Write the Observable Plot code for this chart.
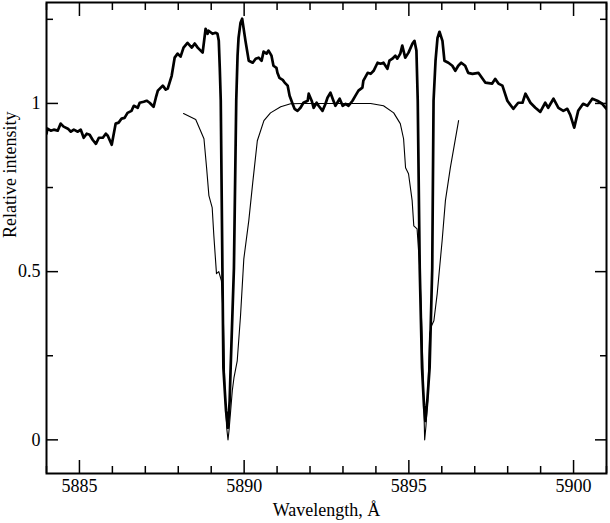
<!DOCTYPE html>
<html><head><meta charset="utf-8">
<script src="https://cdn.jsdelivr.net/npm/d3@7"></script>
<script src="https://cdn.jsdelivr.net/npm/@observablehq/plot@0.6"></script>
<style>html,body{margin:0;padding:0;background:#fff}svg{display:block}svg text{font-family:'Liberation Serif','Times New Roman',serif !important}</style>
</head><body><div id="chart"></div>
<script>
const observedWavelength = [5884.00,5884.03,5884.13,5884.22,5884.34,5884.43,5884.52,5884.65,5884.74,5884.83,
5884.95,5885.04,5885.13,5885.22,5885.31,5885.40,5885.50,5885.59,5885.71,5885.80,
5885.86,5885.98,5886.10,5886.19,5886.28,5886.37,5886.46,5886.58,5886.65,5886.77,
5886.83,5886.95,5887.04,5887.13,5887.25,5887.32,5887.38,5887.53,5887.62,5887.68,
5887.80,5887.89,5887.98,5888.07,5888.16,5888.28,5888.41,5888.50,5888.59,5888.68,
5888.74,5888.83,5888.89,5888.92,5889.04,5889.13,5889.19,5889.23,5889.26,5889.29,
5889.34,5889.37,5889.45,5889.51,5889.56,5889.59,5889.69,5889.76,5889.80,5889.83,
5889.89,5889.94,5890.04,5890.14,5890.26,5890.35,5890.44,5890.53,5890.59,5890.68,
5890.74,5890.83,5890.89,5890.98,5891.01,5891.07,5891.17,5891.23,5891.32,5891.38,
5891.47,5891.53,5891.62,5891.71,5891.80,5891.93,5891.96,5892.05,5892.11,5892.20,
5892.26,5892.38,5892.47,5892.53,5892.62,5892.71,5892.77,5892.90,5892.99,5893.08,
5893.17,5893.29,5893.38,5893.47,5893.59,5893.62,5893.75,5893.84,5893.93,5894.05,
5894.14,5894.23,5894.35,5894.41,5894.50,5894.59,5894.65,5894.74,5894.80,5894.89,
5894.99,5895.11,5895.17,5895.23,5895.27,5895.33,5895.40,5895.46,5895.50,5895.56,
5895.63,5895.71,5895.75,5895.81,5895.87,5895.93,5896.02,5896.08,5896.20,5896.32,
5896.41,5896.50,5896.59,5896.71,5896.80,5896.93,5897.11,5897.32,5897.53,5897.62,
5897.72,5897.84,5897.99,5898.17,5898.32,5898.45,5898.54,5898.69,5898.84,5898.99,
5899.14,5899.23,5899.39,5899.54,5899.69,5899.81,5899.90,5900.02,5900.14,5900.29,
5900.42,5900.57,5900.72,5900.87,5901.00];
const observedIntensity = [0.910,0.925,0.919,0.922,0.919,0.940,0.931,0.925,0.916,0.922,
0.916,0.922,0.898,0.910,0.907,0.892,0.880,0.898,0.898,0.910,
0.904,0.877,0.940,0.943,0.955,0.957,0.972,0.978,0.993,0.987,
1.002,1.005,1.008,1.002,0.990,1.017,1.038,1.053,1.041,1.044,
1.082,1.136,1.148,1.139,1.166,1.180,1.166,1.178,1.166,1.157,
1.151,1.222,1.207,1.216,1.207,1.210,1.207,1.186,1.106,1.008,
0.511,0.214,0.086,0.036,0.116,0.214,0.511,1.008,1.142,1.195,
1.240,1.252,1.186,1.127,1.121,1.133,1.136,1.127,1.154,1.148,
1.157,1.142,1.112,1.106,1.091,1.076,1.070,1.062,1.053,1.023,
0.999,0.984,0.978,0.987,1.002,1.008,1.029,1.008,0.987,1.002,
0.993,0.978,0.999,1.017,1.032,1.008,0.993,1.014,0.993,0.999,
0.993,1.008,1.023,1.038,1.047,1.068,1.091,1.088,1.097,1.121,
1.118,1.121,1.103,1.127,1.133,1.142,1.133,1.148,1.172,1.136,
1.151,1.178,1.186,1.157,1.008,0.511,0.214,0.101,0.056,0.116,
0.214,0.511,1.008,1.127,1.195,1.213,1.186,1.127,1.121,1.112,
1.097,1.112,1.121,1.112,1.091,1.088,1.091,1.062,1.059,1.073,
1.059,1.053,1.008,0.984,1.002,1.002,1.029,1.002,0.987,0.975,
1.002,0.987,1.014,0.987,0.978,0.984,0.966,0.928,0.978,0.999,
0.993,1.014,1.008,0.999,0.984];

const modelWavelength = [5888.16,5888.53,5888.78,5888.86,5888.93,5889.03,5889.08,5889.16,5889.23,5889.31,
5889.37,5889.42,5889.47,5889.51,5889.54,5889.59,5889.64,5889.69,5889.79,5889.89,
5889.99,5890.14,5890.26,5890.40,5890.60,5890.80,5891.11,5891.41,5891.80,5893.84,
5894.23,5894.54,5894.74,5894.84,5894.90,5894.99,5895.10,5895.15,5895.25,5895.33,
5895.40,5895.45,5895.48,5895.52,5895.57,5895.63,5895.69,5895.76,5895.86,5896.01,
5896.11,5896.26,5896.51];
const modelIntensity = [0.970,0.952,0.895,0.809,0.726,0.690,0.607,0.494,0.500,0.473,
0.354,0.131,0.036,0.000,0.027,0.086,0.146,0.184,0.235,0.369,
0.538,0.651,0.764,0.889,0.949,0.972,0.990,0.999,1.000,1.000,
0.993,0.972,0.940,0.895,0.809,0.791,0.711,0.636,0.627,0.511,
0.315,0.116,0.000,0.042,0.116,0.315,0.339,0.354,0.434,0.592,
0.711,0.809,0.949];

const xMajorTicks = [5885, 5890, 5895, 5900];
const xTickLabels = ["5885", "5890", "5895", "5900"];
const xMinorTicks = [5884, 5886, 5887, 5888, 5889, 5891, 5892, 5893, 5894, 5896, 5897, 5898, 5899, 5901];
const yMajorTicks = [0, 0.5, 1];
const yTickLabels = ["0", "0.5", "1"];
const yMinorTicks = [0.25, 0.75, 1.25];
const xTitle = "Wavelength, Å";
const yTitle = "Relative intensity";

const observed = observedWavelength.map((w, i) => [w, observedIntensity[i]]);
const model = modelWavelength.map((w, i) => [w, modelIntensity[i]]);

const font = "'Liberation Serif', 'Times New Roman', serif";
const tickCommon = {fill: "none", label: null, stroke: "black", strokeWidth: 1.5};

const chart = Plot.plot({
  width: 610,
  height: 523,
  marginTop: 2,
  marginBottom: 50,
  marginLeft: 46,
  marginRight: 4,
  style: {fontFamily: font, fontSize: "18px", color: "black", background: "white"},
  x: {domain: [5884, 5901], axis: null, label: null},
  y: {domain: [-0.1, 1.3], axis: null, label: null},
  marks: [
    Plot.line(model, {stroke: "black", strokeWidth: 1.1, clip: true}),
    Plot.line(observed, {stroke: "black", strokeWidth: 2.7, strokeLinejoin: "round", clip: true}),
    Plot.axisX(xMajorTicks, {anchor: "bottom", tickSize: 13, dy: -13, ...tickCommon}),
    Plot.axisX(xMinorTicks, {anchor: "bottom", tickSize: 7, dy: -7, ...tickCommon}),
    Plot.axisX(xMajorTicks, {anchor: "top", tickSize: 13, dy: 13, ...tickCommon}),
    Plot.axisX(xMinorTicks, {anchor: "top", tickSize: 7, dy: 7, ...tickCommon}),
    Plot.axisY(yMajorTicks, {anchor: "left", tickSize: 12, dx: 12, ...tickCommon}),
    Plot.axisY(yMinorTicks, {anchor: "left", tickSize: 7, dx: 7, ...tickCommon}),
    Plot.axisY(yMajorTicks, {anchor: "right", tickSize: 12, dx: -12, ...tickCommon}),
    Plot.axisY(yMinorTicks, {anchor: "right", tickSize: 7, dx: -7, ...tickCommon}),
    Plot.axisX(xMajorTicks, {anchor: "bottom", tickSize: 0, tickPadding: 6, label: null,
      tickFormat: d => xTickLabels[xMajorTicks.indexOf(d)], fill: "black", fontFamily: font, fontSize: 18}),
    Plot.axisY(yMajorTicks, {anchor: "left", tickSize: 0, tickPadding: 6, label: null,
      tickFormat: d => yTickLabels[yMajorTicks.indexOf(d)], fill: "black", fontFamily: font, fontSize: 18}),
    Plot.text([xTitle], {text: d => d, frameAnchor: "bottom", dy: 37, lineAnchor: "middle", fontSize: 18, fontFamily: font, fill: "black"}),
    Plot.text([yTitle], {text: d => d, frameAnchor: "left", dx: -36, rotate: -90, lineAnchor: "middle", fontSize: 18, fontFamily: font, fill: "black"}),
    Plot.frame({stroke: "black", strokeWidth: 2})
  ]
});
document.getElementById("chart").appendChild(chart);
</script>
</body></html>
